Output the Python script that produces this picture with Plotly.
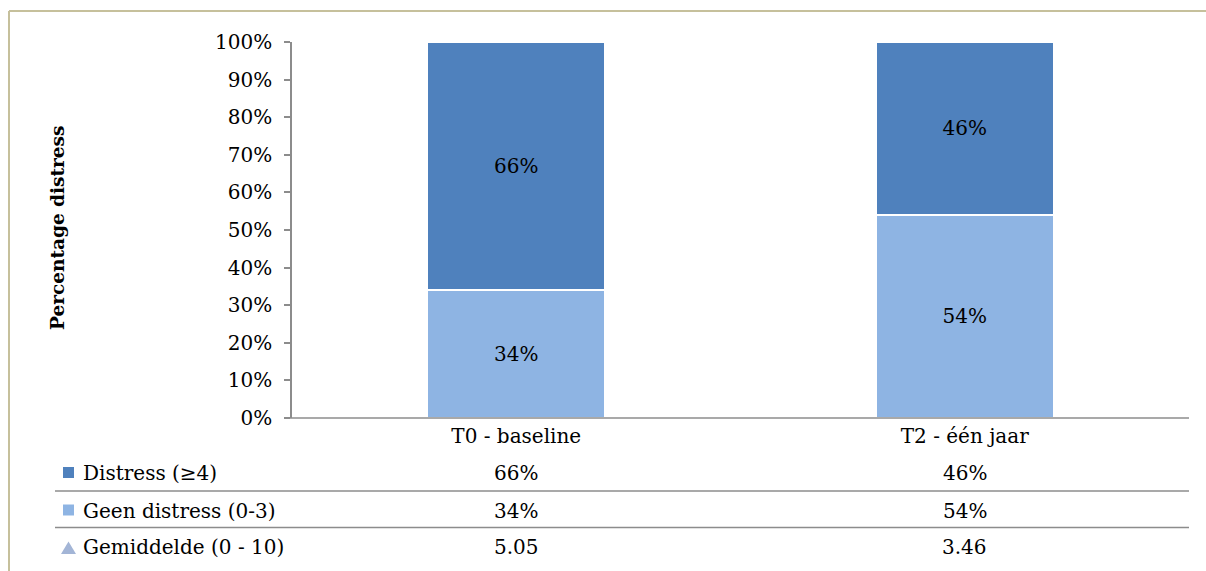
import plotly.graph_objects as go

# Data
categories = ["T0 - baseline", "T2 - één jaar"]
distress = [0.66, 0.46]          # Distress (≥4)
geen_distress = [0.34, 0.54]     # Geen distress (0-3)
gemiddelde = [5.05, 3.46]        # Gemiddelde (0 - 10)
series_names = ["Distress (≥4)", "Geen distress (0-3)", "Gemiddelde (0 - 10)"]
y_ticks = [i / 10 for i in range(11)]

DARK = "#4F81BD"
LIGHT = "#8EB4E3"
TRI = "#A3B5D6"
GRID = "#8C8C8C"
FRAME = "#C6C09C"
FONT = "DejaVu Serif"

W, H = 1206, 571
L, R, T, B = 292, 17, 42, 153
PW, PH = W - L - R, H - T - B


def px(x):
    return (x - L) / PW


def py(y):
    return (H - B - y) / PH


fig = go.Figure()
fig.add_trace(go.Bar(
    x=categories, y=geen_distress, name=series_names[1],
    marker=dict(color=LIGHT, line=dict(color="white", width=1.5)),
    text=[f"{v:.0%}" for v in geen_distress], textposition="inside",
    insidetextanchor="middle", textfont=dict(family=FONT, size=20, color="black"),
))
fig.add_trace(go.Bar(
    x=categories, y=distress, name=series_names[0],
    marker=dict(color=DARK, line=dict(color="white", width=1.5)),
    text=[f"{v:.0%}" for v in distress], textposition="inside",
    insidetextanchor="middle", textfont=dict(family=FONT, size=20, color="black"),
))

shapes = []
annotations = []

# outer frame (left and top edges)
shapes.append(dict(type="line", xref="paper", yref="paper", x0=px(9), x1=px(W + 5),
                   y0=py(11), y1=py(11), line=dict(color=FRAME, width=2)))
shapes.append(dict(type="line", xref="paper", yref="paper", x0=px(9), x1=px(9),
                   y0=py(11), y1=py(H + 5), line=dict(color=FRAME, width=2)))

# table: baseline + row separators
shapes.append(dict(type="line", xref="paper", yref="paper", x0=px(285), x1=1,
                   y0=0, y1=0, line=dict(color=GRID, width=1.5)))
for yline in (491, 527.5):
    shapes.append(dict(type="line", xref="paper", yref="paper", x0=px(55), x1=1,
                       y0=py(yline), y1=py(yline), line=dict(color=GRID, width=1.5)))

row_y = [473, 510.5, 546.5]
row_vals = [
    [f"{v:.0%}" for v in distress],
    [f"{v:.0%}" for v in geen_distress],
    [f"{v:.2f}" for v in gemiddelde],
]
key_colors = [DARK, LIGHT, TRI]

for i, (name, yc) in enumerate(zip(series_names, row_y)):
    annotations.append(dict(xref="paper", yref="paper", x=px(81), y=py(yc),
                            text=name, showarrow=False, xanchor="left", yanchor="middle",
                            font=dict(family=FONT, size=20, color="black")))
    for j, cat in enumerate(categories):
        annotations.append(dict(xref="x", yref="paper", x=cat, y=py(yc),
                                text=row_vals[i][j], showarrow=False, xanchor="center",
                                yanchor="middle", font=dict(family=FONT, size=20, color="black")))
    if i < 2:
        shapes.append(dict(type="rect", xref="paper", yref="paper",
                           x0=px(63), x1=px(74), y0=py(yc - 6), y1=py(yc + 5),
                           fillcolor=key_colors[i], line=dict(width=0)))
    else:
        x0, x1, xm = px(61), px(76), px(68.5)
        yb, yt = py(yc + 7.5), py(yc - 5)
        shapes.append(dict(type="path", xref="paper", yref="paper",
                           path=f"M {x0} {yb} L {x1} {yb} L {xm} {yt} Z",
                           fillcolor=TRI, line=dict(width=0)))

# y-axis title
annotations.append(dict(xref="paper", yref="paper", x=px(57), y=py(228),
                        text="<b>Percentage distress</b>", showarrow=False, textangle=-90,
                        xanchor="center", yanchor="middle",
                        font=dict(family=FONT, size=18.5, color="black")))

fig.update_layout(
    width=W, height=H,
    margin=dict(l=L, r=R, t=T, b=B, autoexpand=False),
    barmode="stack", bargap=0.605,
    showlegend=False,
    plot_bgcolor="white", paper_bgcolor="white",
    shapes=shapes, annotations=annotations,
    xaxis=dict(showline=False, showgrid=False, ticks="", zeroline=False,
               tickfont=dict(family=FONT, size=20, color="black"), ticklabelstandoff=4),
    yaxis=dict(range=[0, 1], tickvals=y_ticks, tickformat=".0%", showgrid=False,
               zeroline=False, showline=True, linecolor=GRID, linewidth=1.5,
               ticks="outside", ticklen=6, tickcolor=GRID, tickwidth=1.5,
               tickfont=dict(family=FONT, size=20, color="black"), ticklabelstandoff=8),
)

fig.write_html("out.html")
